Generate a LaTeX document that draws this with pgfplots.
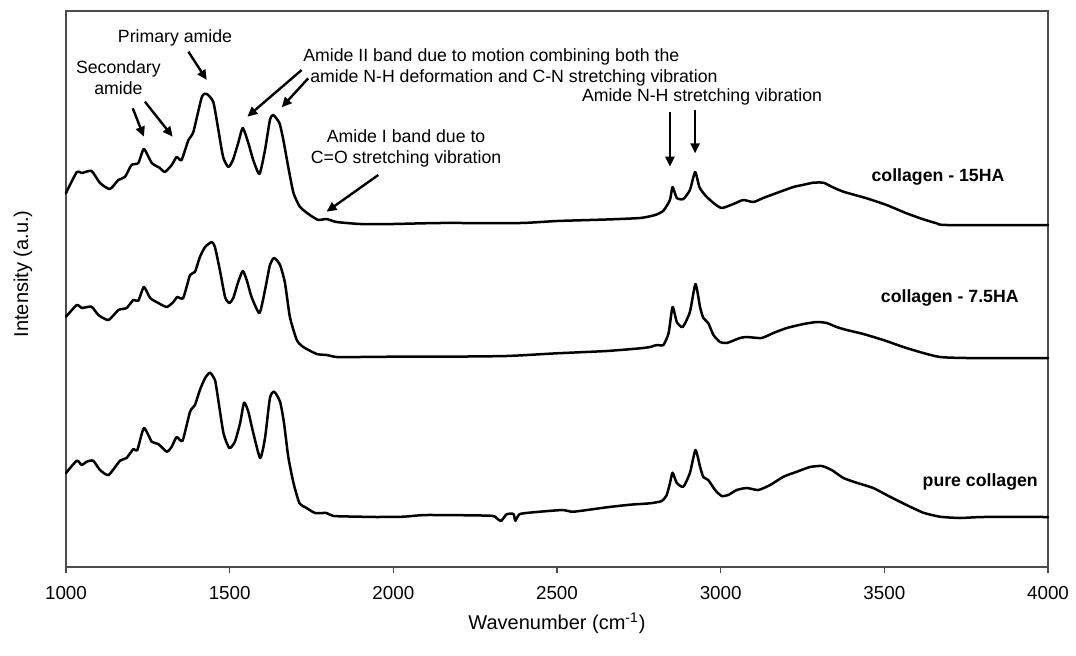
\documentclass[border=0pt]{standalone}
\usepackage{fontspec}
\setmainfont{Liberation Sans}
\usepackage{pgfplots}
\pgfplotsset{compat=1.18}
\usetikzlibrary{arrows.meta}
\begin{document}
\begin{tikzpicture}
\useasboundingbox (-33pt,-44pt) rectangle (505pt,283.5pt);
\begin{axis}[
 at={(0pt,0pt)}, anchor=south west,
 scale only axis, width=491pt, height=278pt,
 xmin=1000, xmax=4000, ymin=0, ymax=556,
 xtick={1000,1500,...,4000}, ytick=\empty,
 tick align=outside, major tick length=3pt,
 xtick pos=bottom,
 axis line style={black!70, line width=0.6pt},
 every tick/.style={black!70, line width=0.6pt},
 /pgf/number format/assume math mode=true,
 /pgf/number format/set thousands separator={},
 tick label style={font=\fontsize{9.4}{10}\selectfont},
 xticklabel style={yshift=-3pt},
 xlabel={Wavenumber (cm\textsuperscript{-1})},
 ylabel={Intensity (a.u.)},
 label style={font=\fontsize{8.9}{10}\selectfont},
 every axis x label/.style={at={(axis description cs:0.5,-0.1007)}, anchor=center},
 every axis y label/.style={at={(axis description cs:-0.0438,0.527)}, anchor=center, rotate=90},
 clip=false,
 spec/.style={black, line width=1.25pt, line join=round, line cap=round, mark=none, smooth, tension=0.35},
]
% collagen - 15HA
\addplot[spec] table {
1000 374
1033 395
1048 394
1078 396
1104 384
1134 378
1160 387
1180 390
1200 402
1221 404
1238 418
1262 404
1287 399
1302 395
1323 402
1338 410
1353 407
1374 427
1389 435
1415 470
1430 473
1450 465
1464 440
1480 410
1496 400
1510 407
1526 424
1540 439
1557 424
1572 407
1591 393
1608 417
1623 447
1633 452
1652 444
1664 427
1679 400
1695 374
1715 360
1745 352
1771 347
1796 348
1827 345
1900 343
2000 343
2143 344
2388 344
2500 346
2650 347.5
2754 349
2800 352
2825 356.3
2845 367
2853 380
2866 369
2886 368
2906 377
2922 395
2935 380
2952 372
2978 364
3003 359
3039 363
3069 367
3100 365
3130 369
3171 374
3222 380
3250 382
3283 384.3
3314 384.3
3339 380.3
3375 375.3
3446 368.7
3507 362
3568 353.7
3619 347.7
3660 343.7
3691 342
4000 342
};
% collagen - 7.5HA
\addplot[spec] table {
1000 250.3
1033 262
1048 259
1078 260.3
1099 252
1130 247
1160 257
1185 259
1206 267
1221 266.3
1238 280
1257 269
1282 264
1308 260
1328 265
1340 270
1358 269
1379 292
1394 295
1409 310
1425 320
1445 325
1455 320
1470 297
1486 270
1499 264
1511 269
1526 285
1540 296
1552 287
1567 270
1591 254
1608 277
1623 302
1636 309
1654 302
1669 284
1684 250
1705 227
1725 220
1766 213
1796 212
1827 210
1898 210
2000 210.3
2143 210.3
2346 211
2499 213.7
2652 216
2754 218.7
2784 220
2805 222
2825 222
2841 234
2853 260
2866 245
2884 240
2906 255
2923 283
2937 260
2947 249
2962 244
2978 232
2998 225
3019 224
3059 229
3080 230
3125 229
3161 234
3202 239
3253 243
3294 245
3324 244
3354 240
3385 237
3436 233
3497 227
3558 220
3619 214
3670 210
3751 209
4000 209
};
% pure collagen
\addplot[spec] table {
1000 94
1033 106.3
1048 102
1063 105.3
1083 106.3
1104 97
1130 92
1165 106.3
1185 109
1206 118
1218 117
1238 139
1262 125.3
1282 123
1308 115.3
1323 120.3
1338 130
1356 126.3
1379 155.3
1394 162
1409 177
1425 189
1440 194.3
1455 187
1462 174
1481 134
1499 119
1516 125.3
1532 144
1544 164.3
1557 155.3
1570 137
1593 109
1608 129
1623 169
1636 175.3
1654 165.3
1666 144
1679 110.3
1695 84
1713 64
1735 59
1761 54
1796 54
1817 51
1898 50.3
1949 50
2031 50.3
2102 52
2295 51.3
2316 48.7
2329 46
2346 52.7
2367 53
2373 46.3
2387 53
2448 55.3
2519 57
2550 55.3
2652 59.7
2723 62.3
2784 63.7
2820 66
2835 72
2845 83.7
2853 94.3
2866 84
2886 80.3
2906 94
2923 117
2937 100.3
2947 90
2962 87
2983 77
3003 71
3023 72
3049 77
3080 79
3115 77
3151 82
3192 90.3
3233 95.3
3273 100
3309 101
3339 97
3375 89
3415 84.3
3466 79
3517 70.3
3568 62
3619 54.3
3670 50.3
3731 49
3802 50
4000 50
};
% annotations
\begin{scope}[every node/.style={font=\fontsize{8.85}{10.5}\selectfont, inner sep=0pt},
  arr/.style={-{Triangle[length=5pt,width=4.5pt]}, line width=1.2pt, black}]
\draw[arr] (axis cs:1204,458.7) -- (axis cs:1238,430.3);
\draw[arr] (axis cs:1241,465.3) -- (axis cs:1326,430.3);
\draw[arr] (axis cs:1374,515.3) -- (axis cs:1430,487);
\draw[arr] (axis cs:1720,497) -- (axis cs:1554,450.3);
\draw[arr] (axis cs:1740,488.7) -- (axis cs:1659,459.7);
\draw[arr] (axis cs:1954,392) -- (axis cs:1796,355.3);
\draw[arr] (axis cs:2845,455.3) -- (axis cs:2845,400.3);
\draw[arr] (axis cs:2922,457) -- (axis cs:2922,413.7);
\node at (axis cs:1333,529) {Primary amide};
\node[align=center] at (axis cs:1160,489.5) {Secondary\\amide};
\node[anchor=west] at (axis cs:1724,510) {Amide II band due to motion combining both the};
\node[anchor=west] at (axis cs:1745,489) {amide N-H deformation and C-N stretching vibration};
\node[align=center] at (axis cs:2039,418.5) {Amide I band due to\\C=O stretching vibration};
\node at (axis cs:2943,470) {Amide N-H stretching vibration};
\node[font=\fontsize{8.85}{10.5}\selectfont\bfseries] at (axis cs:3664,390) {collagen - 15HA};
\node[font=\fontsize{8.85}{10.5}\selectfont\bfseries] at (axis cs:3700,268.7) {collagen - 7.5HA};
\node[font=\fontsize{8.85}{10.5}\selectfont\bfseries] at (axis cs:3793,85.3) {pure collagen};
\end{scope}
\end{axis}
\end{tikzpicture}
\end{document}
